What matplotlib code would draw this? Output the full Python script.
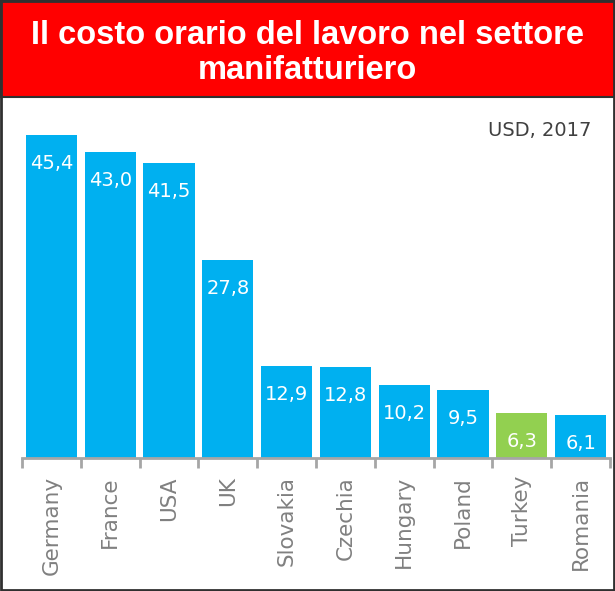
import matplotlib
matplotlib.use("Agg")
import matplotlib.pyplot as plt
from matplotlib.patches import Rectangle

# data
countries = ["Germany", "France", "USA", "UK", "Slovakia",
             "Czechia", "Hungary", "Poland", "Turkey", "Romania"]
costs = [45.4, 43.0, 41.5, 27.8, 12.9, 12.8, 10.2, 9.5, 6.3, 6.1]
highlight = "Turkey"

title = "Il costo orario del lavoro nel settore\nmanifatturiero"
note = "USD, 2017"

BLUE = "#00B0F0"
GREEN = "#92D050"
GREY = "#808080"

fig = plt.figure(figsize=(6.15, 5.91), dpi=100)

# red title banner
fig.patches.append(Rectangle((0, 1 - 97 / 591), 1, 97 / 591, transform=fig.transFigure,
                             facecolor="#FF0000", edgecolor="#303030", linewidth=1.5))
fig.text(0.5, 1 - 53 / 591, title, ha="center", va="center", color="white",
         fontsize=23.5, fontweight="bold", linespacing=1.2,
         family=["Liberation Sans", "DejaVu Sans"])

# outer border
fig.patches.append(Rectangle((0.0015, 0.0015), 0.997, 0.997, transform=fig.transFigure,
                             facecolor="none", edgecolor="#303030", linewidth=2))

ax = fig.add_axes([22 / 615, 1 - 458 / 591, (610 - 22) / 615, (458 - 100) / 591])
x = list(range(len(countries)))
colors = [GREEN if c == highlight else BLUE for c in countries]
bars = ax.bar(x, costs, width=0.87, color=colors, edgecolor="none")

for xi, v in zip(x, costs):
    ax.annotate(f"{v:.1f}".replace(".", ","), (xi, v), xytext=(0, -20.5),
                textcoords="offset points", ha="center", va="center",
                color="white", fontsize=14)

ax.set_xlim(-0.5, len(countries) - 0.5)
ax.set_ylim(0, 50.3)
for s in ["top", "left", "right"]:
    ax.spines[s].set_visible(False)
ax.spines["bottom"].set_color("#A6A6A6")
ax.spines["bottom"].set_linewidth(2)
ax.set_yticks([])

ax.set_xticks(x)
ax.set_xticklabels(countries, rotation=90, color=GREY, fontsize=15.5, va="top")
ax.tick_params(axis="x", which="major", length=0, pad=13)
ax.set_xticks([i - 0.5 for i in range(len(countries) + 1)], minor=True)
ax.tick_params(axis="x", which="minor", length=7, width=2, color="#A6A6A6")

fig.text(591 / 615, 1 - 130 / 591, note, ha="right", va="center",
         color="#404040", fontsize=14)

fig.savefig("out.png", dpi=100)
